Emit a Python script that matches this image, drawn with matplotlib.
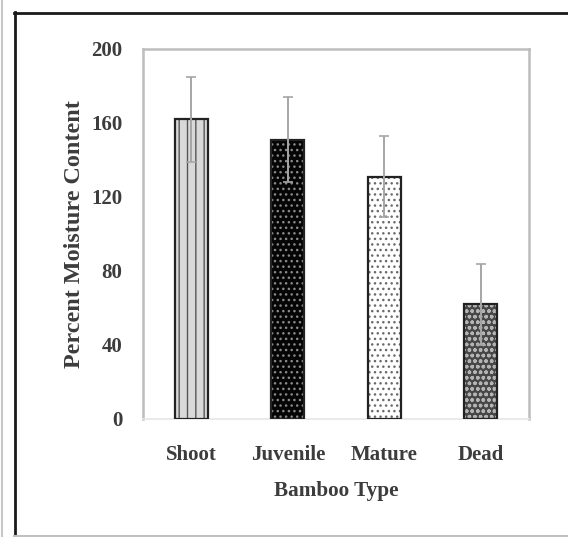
import matplotlib
matplotlib.use("Agg")
import matplotlib.pyplot as plt
from matplotlib.lines import Line2D

# Moisture content by bamboo type (mean and standard deviation)
categories = ["Shoot", "Juvenile", "Mature", "Dead"]
moisture = [162, 151, 131, 62]
std_dev = [23, 23, 22, 22]
y_ticks = [0, 40, 80, 120, 160, 200]

# Bar appearance per category: face colour, hatch pattern, hatch colour
faces = ["#d9d9d9", "#050505", "#ffffff", "#474747"]
hatches = ["||", "...", "...", "ooo"]
hatch_colors = ["#555555", "#8a8a8a", "#6a6a6a", "#b4b4b4"]

plt.rcParams["font.family"] = ["Liberation Serif", "DejaVu Serif"]
plt.rcParams["font.weight"] = "bold"
plt.rcParams["hatch.linewidth"] = 1.0

fig = plt.figure(figsize=(5.68, 5.37), dpi=100)
ax = fig.add_axes([143 / 568, 1 - 419 / 537, (529 - 143) / 568, (419 - 49) / 537])

x = range(len(categories))
text_color = "#3c3c3c"

# hatched fill, then a crisp outline on top
for xi, val, fc, h, hc in zip(x, moisture, faces, hatches, hatch_colors):
    ax.bar(xi, val, width=0.34, color=fc, hatch=h, edgecolor=hc, linewidth=0, zorder=2)
ax.bar(x, moisture, width=0.34, fill=False, edgecolor="#222222", linewidth=1.6, zorder=3)

ax.errorbar(x, moisture, yerr=std_dev, fmt="none", ecolor="#a6a6a6",
            elinewidth=1.4, capsize=3.5, capthick=1.2, zorder=4)

ax.set_xlim(-0.5, 3.5)
ax.set_ylim(0, 200)
ax.set_yticks(y_ticks)
ax.set_xticks(list(x))
ax.set_xticklabels(categories)
ax.tick_params(axis="both", length=0, labelsize=15, colors=text_color)
ax.tick_params(axis="y", pad=15)
ax.tick_params(axis="x", pad=19)

for side in ["left", "top", "right"]:
    ax.spines[side].set_color("#bdbdbd")
    ax.spines[side].set_linewidth(1.8)
ax.spines["bottom"].set_color("#e6e6e6")
ax.spines["bottom"].set_linewidth(1.2)

ax.set_ylabel("Percent Moisture Content", fontsize=17.4, fontweight="bold",
              color=text_color, labelpad=4)
ax.set_xlabel("Bamboo Type", fontsize=15.3, fontweight="bold",
              color=text_color, labelpad=11)

# outer frame around the figure
W, H = 568, 537
def fline(xs, ys, color, lw):
    fig.add_artist(Line2D([v / W for v in xs], [1 - v / H for v in ys],
                          transform=fig.transFigure, color=color, linewidth=lw))

fline([14, 568], [12.5, 12.5], "#1a1a1a", 2.0)
fline([14.5, 14.5], [12, 537], "#1a1a1a", 2.0)
fline([14, 568], [535.5, 535.5], "#c0c0c0", 1.5)
fline([1.5, 1.5], [0, 537], "#c8c8c8", 1.5)

fig.savefig("out.png", dpi=100)
